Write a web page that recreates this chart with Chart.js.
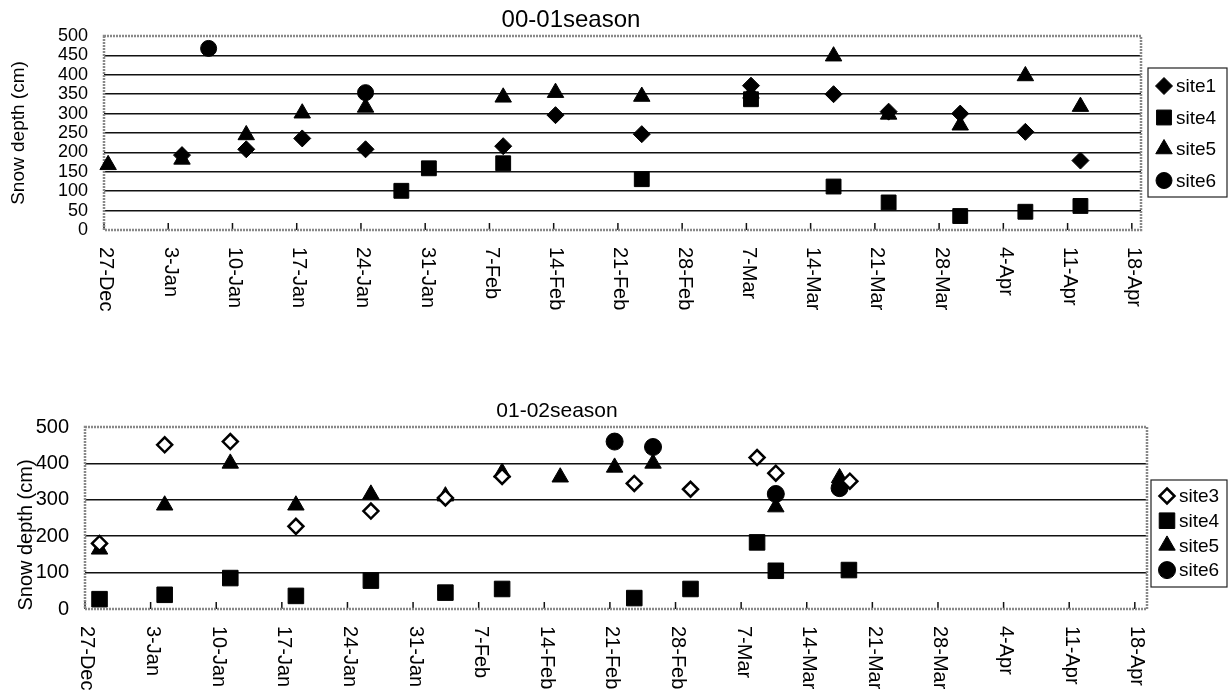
<!DOCTYPE html>
<html>
<head>
<meta charset="utf-8">
<script src="https://cdn.jsdelivr.net/npm/chart.js@4.4.1/dist/chart.umd.min.js"></script>
<style>
  body { margin: 0; background: #fff; }
  canvas { display: block; }
</style>
</head>
<body>
<canvas id="season1" width="1232" height="347"></canvas>
<canvas id="season2" width="1232" height="347"></canvas>
<script>
// x = days after 27-Dec, y = snow depth (cm)
const tickLabels = ['27-Dec', '3-Jan', '10-Jan', '17-Jan', '24-Jan', '31-Jan', '7-Feb', '14-Feb',
    '21-Feb', '28-Feb', '7-Mar', '14-Mar', '21-Mar', '28-Mar', '4-Apr', '11-Apr', '18-Apr'];

// 00-01 season
const a_site1Day = [8.5, 15.5, 21.6, 28.5, 43.5, 49.2, 58.6, 70.5, 79.5, 85.5, 93.3, 100.4, 106.4];
const a_site1Depth = [193, 208, 236, 208, 216, 296, 247, 372, 350, 305, 300, 253, 179];
const a_site4Day = [32.4, 35.4, 43.5, 58.6, 70.5, 79.5, 85.5, 93.3, 100.4, 106.4];
const a_site4Depth = [101, 159, 172, 131, 337, 112, 71, 36, 47, 62];
const a_site5Day = [0.45, 8.5, 15.5, 21.6, 28.5, 43.5, 49.2, 58.6, 70.5, 79.5, 85.5, 93.3, 100.4, 106.4];
const a_site5Depth = [168, 182, 245, 301, 316, 342, 354, 344, 352, 448, 298, 270, 397, 318];
const a_site6Day = [11.4, 28.5];
const a_site6Depth = [468, 354];

// 01-02 season
const b_site3Day = [1.55, 8.5, 15.5, 22.5, 30.5, 38.45, 44.5, 58.6, 64.6, 71.7, 73.7, 81.6];
const b_site3Depth = [180, 451, 460, 227, 269, 305, 364, 345, 329, 416, 373, 351];
const b_site4Day = [1.55, 8.5, 15.5, 22.5, 30.5, 38.45, 44.5, 58.6, 64.6, 71.7, 73.7, 81.5];
const b_site4Depth = [27, 39, 85, 36, 78, 45, 55, 30, 55, 183, 105, 107];
const b_site5Day = [1.55, 8.5, 15.5, 22.5, 30.5, 38.45, 44.5, 50.7, 56.5, 60.6, 73.7, 80.5];
const b_site5Depth = [164, 285, 400, 285, 315, 310, 375, 362, 389, 400, 280, 360];
const b_site6Day = [56.5, 60.6, 73.7, 80.5];
const b_site6Depth = [460, 445, 316, 332];

const FONT = "'Liberation Sans', Arial, sans-serif";

const toPoints = (days, depth) => days.map((d, i) => ({x: d, y: depth[i]}));

// marker styles, black filled unless open
const marker = (style, radius, open) => ({
    pointStyle: style,
    pointRadius: radius,
    pointHoverRadius: radius,
    backgroundColor: open ? '#fff' : '#000',
    borderColor: '#000',
    borderWidth: open ? 2.5 : 1
});

function drawMarker(ctx, style, x, y, r) {
    ctx.beginPath();
    if (style === 'rectRot') {
        ctx.moveTo(x, y - r); ctx.lineTo(x + r, y); ctx.lineTo(x, y + r); ctx.lineTo(x - r, y);
        ctx.closePath();
    } else if (style === 'rect') {
        const s = r * Math.SQRT1_2;
        ctx.rect(x - s, y - s, 2 * s, 2 * s);
    } else if (style === 'triangle') {
        ctx.moveTo(x, y - r); ctx.lineTo(x + r * 0.866, y + r / 2); ctx.lineTo(x - r * 0.866, y + r / 2);
        ctx.closePath();
    } else {
        ctx.arc(x, y, r, 0, Math.PI * 2);
    }
}

const decor = {
    id: 'decor',
    beforeDatasetsDraw(chart) {
        const {ctx, chartArea: a, scales: {x}} = chart;
        ctx.save();
        ctx.strokeStyle = '#111';
        ctx.lineWidth = 1.5;
        x.ticks.forEach(t => {
            const px = x.getPixelForValue(t.value);
            ctx.beginPath();
            ctx.moveTo(px, a.bottom);
            ctx.lineTo(px, a.bottom - 7);
            ctx.stroke();
        });
        // excel-ish grey plot border
        ctx.strokeStyle = '#888';
        ctx.lineWidth = 2.5;
        ctx.setLineDash([2, 1]);
        ctx.strokeRect(a.left, a.top, a.right - a.left, a.bottom - a.top);
        ctx.restore();
    },
    afterDraw(chart, args, opts) {
        const {ctx, chartArea: a, scales: {x}} = chart;
        ctx.save();
        ctx.fillStyle = '#000';

        // chart title
        ctx.font = `${opts.titleFont}px ${FONT}`;
        ctx.textAlign = 'center';
        ctx.textBaseline = 'middle';
        ctx.fillText(opts.title, opts.titleX, opts.titleY);

        // x labels turned clockwise
        ctx.font = `${opts.xFont}px ${FONT}`;
        ctx.textAlign = 'left';
        x.ticks.forEach((t, i) => {
            ctx.save();
            ctx.translate(x.getPixelForValue(t.value) + 2, a.bottom + 17);
            ctx.rotate(Math.PI / 2);
            ctx.fillText(tickLabels[i], 0, 0);
            ctx.restore();
        });

        // y title
        ctx.save();
        ctx.font = `${opts.yTitleFont}px ${FONT}`;
        ctx.textAlign = 'center';
        ctx.textBaseline = 'alphabetic';
        ctx.translate(opts.yTitleX, opts.yTitleY);
        ctx.rotate(-Math.PI / 2);
        ctx.fillText('Snow depth (cm)', 0, 0);
        ctx.restore();

        // legend
        const L = opts.legend;
        ctx.strokeStyle = '#222';
        ctx.lineWidth = 1.2;
        ctx.strokeRect(L.x, L.y, L.w, L.h);
        ctx.font = `${L.font}px ${FONT}`;
        ctx.textAlign = 'left';
        ctx.textBaseline = 'middle';
        chart.data.datasets.forEach((ds, i) => {
            const cy = L.firstRow + i * L.rowGap;
            drawMarker(ctx, ds.pointStyle, L.x + 16, cy, ds.pointRadius);
            ctx.fillStyle = ds.backgroundColor;
            ctx.fill();
            ctx.lineWidth = ds.borderWidth;
            ctx.strokeStyle = ds.borderColor;
            ctx.stroke();
            ctx.fillStyle = '#000';
            ctx.fillText(ds.label, L.x + 28, cy + 1);
        });
        ctx.restore();
    }
};

function makeChart(id, cfg) {
    return new Chart(document.getElementById(id), {
        type: 'scatter',
        data: {datasets: cfg.datasets},
        plugins: [decor],
        options: {
            responsive: false,
            animation: false,
            devicePixelRatio: 1,
            layout: {padding: {left: 0, top: cfg.plotTop, right: 1232 - cfg.plotRight, bottom: 0}},
            elements: {point: {hitRadius: 0}},
            datasets: {scatter: {clip: false}},
            plugins: {
                legend: {display: false},
                tooltip: {enabled: false},
                decor: cfg.decor
            },
            scales: {
                x: {
                    type: 'linear',
                    min: 0,
                    max: cfg.xMax,
                    afterBuildTicks: s => { s.ticks = tickLabels.map((_, i) => ({value: i * 7})); },
                    afterFit: s => { s.height = 347 - cfg.plotBottom; },
                    ticks: {display: false},
                    grid: {display: false},
                    border: {display: false}
                },
                y: {
                    min: 0,
                    max: 500,
                    afterFit: s => { s.width = cfg.plotLeft; },
                    ticks: {
                        stepSize: cfg.yStep,
                        autoSkip: false,
                        color: '#000',
                        padding: 16,
                        font: {family: FONT, size: cfg.yFont}
                    },
                    grid: {
                        drawTicks: false,
                        lineWidth: 1.5,
                        color: c => (c.tick.value === 0 || c.tick.value === 500) ? 'rgba(0,0,0,0)' : '#111'
                    },
                    border: {display: false}
                }
            }
        }
    });
}

makeChart('season1', {
    plotLeft: 104, plotRight: 1141, plotTop: 36, plotBottom: 230, xMax: 113,
    yStep: 50, yFont: 18,
    datasets: [
        {label: 'site1', data: toPoints(a_site1Day, a_site1Depth), ...marker('rectRot', 8.5)},
        {label: 'site4', data: toPoints(a_site4Day, a_site4Depth), ...marker('rect', 10.5)},
        {label: 'site5', data: toPoints(a_site5Day, a_site5Depth), ...marker('triangle', 9.5)},
        {label: 'site6', data: toPoints(a_site6Day, a_site6Depth), ...marker('circle', 8)}
    ],
    decor: {
        title: '00-01season', titleFont: 24, titleX: 571, titleY: 20,
        xFont: 20, yTitleFont: 19, yTitleX: 24, yTitleY: 133,
        legend: {x: 1148, y: 68, w: 79, h: 129, firstRow: 86, rowGap: 31.5, font: 19}
    }
});

makeChart('season2', {
    plotLeft: 85, plotRight: 1147, plotTop: 80, plotBottom: 262, xMax: 113.3,
    yStep: 100, yFont: 20,
    datasets: [
        {label: 'site3', data: toPoints(b_site3Day, b_site3Depth), ...marker('rectRot', 7.5, true)},
        {label: 'site4', data: toPoints(b_site4Day, b_site4Depth), ...marker('rect', 11)},
        {label: 'site5', data: toPoints(b_site5Day, b_site5Depth), ...marker('triangle', 9.5)},
        {label: 'site6', data: toPoints(b_site6Day, b_site6Depth), ...marker('circle', 8.5)}
    ],
    decor: {
        title: '01-02season', titleFont: 21, titleX: 557, titleY: 64,
        xFont: 20, yTitleFont: 20, yTitleX: 32, yTitleY: 188,
        legend: {x: 1151, y: 133, w: 76, h: 107, firstRow: 149, rowGap: 24.7, font: 19}
    }
});
</script>
</body>
</html>
